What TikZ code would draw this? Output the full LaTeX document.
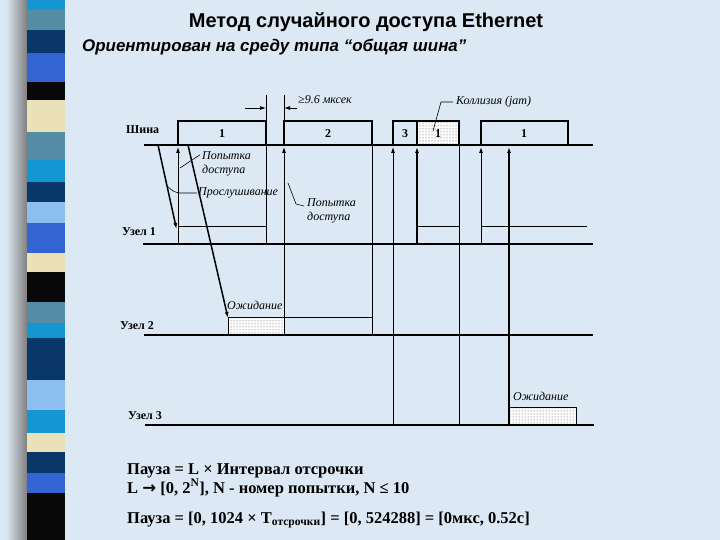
\documentclass[tikz,border=0pt]{standalone}
\usepackage{fontspec}
\setmainfont{Liberation Serif}
\newfontfamily\arialfont{Liberation Sans}
\newfontfamily\djfont{DejaVu Sans}
\usetikzlibrary{arrows.meta,patterns}
\definecolor{bg}{RGB}{220,232,244}
\definecolor{scyan}{RGB}{20,150,210}
\definecolor{ssteel}{RGB}{85,140,165}
\definecolor{snavy}{RGB}{10,55,105}
\definecolor{sroyal}{RGB}{50,100,210}
\definecolor{sblack}{RGB}{8,8,8}
\definecolor{scream}{RGB}{235,225,185}
\definecolor{slight}{RGB}{140,190,240}
\tikzset{
  busline/.style={line width=2.6pt},
  pulse/.style={line width=1.9pt},
  vline/.style={line width=0.8pt},
  vthick/.style={line width=1.7pt},
  diag/.style={line width=1.5pt},
  arr/.style={-{Latex[length=6pt,width=4pt]}},
  lbl/.style={font=\fontsize{12}{13}\selectfont\bfseries, inner sep=0pt, anchor=west},
  ital/.style={font=\fontsize{12}{13.5}\selectfont\itshape, inner sep=0pt, anchor=west, align=left},
  num/.style={font=\fontsize{12}{13}\selectfont\bfseries, inner sep=0pt},
  waitbox/.style={draw, line width=0.6pt, fill=white, postaction={pattern=dots, pattern color=black!75}},
  leader/.style={line width=0.6pt},
  formula/.style={font=\fontsize{16.5}{18}\selectfont\bfseries, inner sep=0pt, anchor=base west}
}
\begin{document}
\begin{tikzpicture}[x=1pt,y=-1pt]
\useasboundingbox (0,0) rectangle (720,540);
\fill[bg] (0,0) rectangle (720,540);
% left decorative strip
\shade[left color=bg, right color=black!50] (6,0) rectangle (27,540);
\foreach \a/\b/\c in {0/10/scyan,10/30/ssteel,30/53/snavy,53/82/sroyal,82/100/sblack,100/132/scream,132/160/ssteel,160/182/scyan,182/202/snavy,202/223/slight,223/253/sroyal,253/272/scream,272/302/sblack,302/323/ssteel,323/338/scyan,338/380/snavy,380/410/slight,410/433/scyan,433/452/scream,452/473/snavy,473/493/sroyal,493/540/sblack}
  \fill[\c] (27,\a) rectangle (65,\b);

% titles
\node[font=\arialfont\bfseries\fontsize{20}{22}\selectfont, inner sep=0pt] (title) at (366,22) {Метод случайного доступа Ethernet};
\node[font=\arialfont\bfseries\itshape\fontsize{16.9}{18}\selectfont, inner sep=0pt, anchor=west] (sub) at (82,47) {Ориентирован на среду типа “общая шина”};

% main time lines
\coordinate (busL) at (144,145); \coordinate (busR) at (593,145);
\coordinate (n1L) at (143,244);  \coordinate (n1R) at (593,244);
\coordinate (n2L) at (144,335);  \coordinate (n2R) at (593,335);
\coordinate (n3L) at (145,425);  \coordinate (n3R) at (594,425);

% thin verticals
\draw[vline] (266,95) -- (266,244);
\draw[vline] (284,95) -- (284,121);
\draw[vline] (372,145) -- (372,335);
\draw[vline] (459,145) -- (459,425);
% arrows up to the bus
\draw[vline,arr] (178,244) -- (178,147);
\draw[vline,arr] (284,335) -- (284,147);
\draw[vline,arr] (393,425) -- (393,147);
\draw[vthick,arr] (417,244) -- (417,147);
\draw[line width=1pt,arr] (481,244) -- (481,147);
\draw[vthick,arr] (509,407) -- (509,147);
% horizontal levels
\draw[vline] (178,226) -- (266,226);
\draw[vline] (228,317) -- (372,317);
\draw[vline] (417,226) -- (459,226);
\draw[vline] (481,226) -- (587,226);

% wait boxes
\node[waitbox, minimum width=56pt, minimum height=18pt, inner sep=0pt, anchor=north west] (w2) at (228,317) {};
\node[waitbox, minimum width=67pt, minimum height=18pt, inner sep=0pt, anchor=north west] (w3) at (509,407) {};

% frames on the bus
\fill[white, postaction={pattern=dots, pattern color=black!75}] (417,121) rectangle (459,145);
\draw[pulse] (178,145) -- (178,121) -- (266,121) -- (266,145);
\draw[pulse] (284,145) -- (284,121) -- (372,121) -- (372,145);
\draw[pulse] (393,145) -- (393,121) -- (459,121) -- (459,145);
\draw[pulse] (417,121) -- (417,145);
\draw[pulse] (481,145) -- (481,121) -- (568,121) -- (568,145);
\node[num] (f1) at (222,134) {1};
\node[num] (f2) at (328,134) {2};
\node[num] (f3) at (405,134) {3};
\node[num] (f4) at (438,134) {1};
\node[num] (f5) at (524,134) {1};

% time lines
\draw[busline] (busL) -- (busR);
\draw[busline] (n1L) -- (n1R);
\draw[busline] (n2L) -- (n2R);
\draw[busline] (n3L) -- (n3R);
\draw[vthick] (509,407) -- (509,425);

% listening diagonals
\draw[diag,arr] (158,145) -- (176.5,229);
\draw[diag,arr] (188,145) -- (228,318);

% 9.6 us gap
\draw[vline,-{Latex[length=6pt,width=4pt]}] (245,108) -- (266,108);
\draw[vline,-{Latex[length=6pt,width=4pt]}] (297,108) -- (284,108);
\node[ital] (gap) at (298,100) {≥9.6 мксек};

% node labels
\node[lbl] (bus) at (126,130) {Шина};
\node[lbl] (u1) at (122,232) {Узел 1};
\node[lbl] (u2) at (120,326) {Узел 2};
\node[lbl] (u3) at (128,416) {Узел 3};

% italic annotations
\node[ital] (try1) at (202,164) {Попытка\\доступа};
\node[ital] (listen) at (198,193) {Прослушивание};
\node[ital] (try2) at (307,211) {Попытка\\доступа};
\node[ital] (coll) at (456,102) {Коллизия (jam)};
\node[ital] (wait2) at (227,305) {Ожидание};
\node[ital] (wait3) at (513,396) {Ожидание};

% leaders
\draw[leader] (try1.north west) ++(-2,3) .. controls (192,160) .. (180,168);
\draw[leader] (listen.west) ++(-1,0) -- (180,193) .. controls (174,192) .. (167,186);
\draw[leader] (try2.west) ++(-3,-5) -- (296,204) -- (288,183);
\draw[leader] (coll.west) ++(-3,0) -- (441,102) -- (433,131);

% formulas
\node[formula] (p1) at (127,474) {Пауза = L × Интервал отсрочки};
\node[formula] (p2) at (127,493) {L {\djfont\bfseries →} [0, 2\textsuperscript{N}], N - номер попытки, N ≤ 10};
\node[formula] (p3) at (127,523) {Пауза = [0, 1024 × T\textsubscript{отсрочки}] = [0, 524288] = [0мкс, 0.52с]};
\end{tikzpicture}
\end{document}
